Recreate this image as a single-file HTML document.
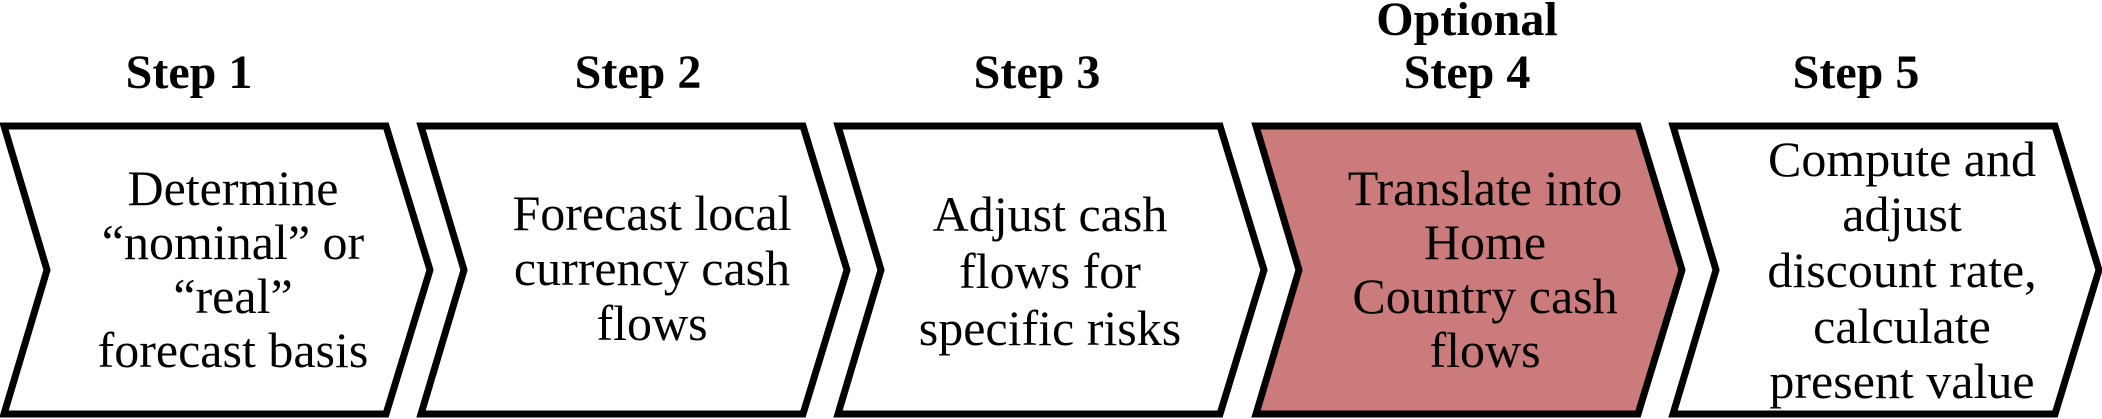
<!DOCTYPE html>
<html><head><meta charset="utf-8"><style>
html,body{margin:0;padding:0;background:#fff;width:2102px;height:419px;overflow:hidden}
svg{display:block}
text{font-family:"Liberation Serif","Times New Roman",serif;fill:#000}
.h{font-weight:bold;font-size:48px}
.b{font-size:50px}
</style></head><body>
<svg width="2102" height="419" viewBox="0 0 2102 419" xmlns="http://www.w3.org/2000/svg">
<g stroke="#000" stroke-width="7" stroke-linejoin="miter">
<polygon fill="#fff" points="4,126 386,126 430,270 386,414 4,414 47,270"/>
<polygon fill="#fff" points="421,126 803,126 847,270 803,414 421,414 464,270"/>
<polygon fill="#fff" points="838,126 1220,126 1264,270 1220,414 838,414 881,270"/>
<polygon fill="#CB7B7B" points="1256,126 1638,126 1682,270 1638,414 1256,414 1299,270"/>
<polygon fill="#fff" points="1673,126 2055,126 2099,270 2055,414 1673,414 1716,270"/>
</g>
<g text-anchor="middle">
<text class="h" x="189" y="88">Step 1</text>
<text class="h" x="638" y="88">Step 2</text>
<text class="h" x="1037" y="88">Step 3</text>
<text class="h" x="1467" y="35">Optional</text>
<text class="h" x="1467" y="88">Step 4</text>
<text class="h" x="1856" y="88">Step 5</text>
</g>
<g text-anchor="middle">
<text class="b" x="233" y="205">Determine</text>
<text class="b" x="233" y="259">“nominal” or</text>
<text class="b" x="233" y="313">“real”</text>
<text class="b" x="233" y="367">forecast basis</text>

<text class="b" x="652" y="230">Forecast local</text>
<text class="b" x="652" y="285">currency cash</text>
<text class="b" x="652" y="340">flows</text>

<text class="b" x="1050" y="231">Adjust cash</text>
<text class="b" x="1050" y="288">flows for</text>
<text class="b" x="1050" y="345">specific risks</text>

<text class="b" x="1485" y="205">Translate into</text>
<text class="b" x="1485" y="259">Home</text>
<text class="b" x="1485" y="313">Country cash</text>
<text class="b" x="1485" y="367">flows</text>

<text class="b" x="1902" y="176">Compute and</text>
<text class="b" x="1902" y="231">adjust</text>
<text class="b" x="1902" y="287">discount rate,</text>
<text class="b" x="1902" y="343">calculate</text>
<text class="b" x="1902" y="398">present value</text>
</g>
</svg>
</body></html>
